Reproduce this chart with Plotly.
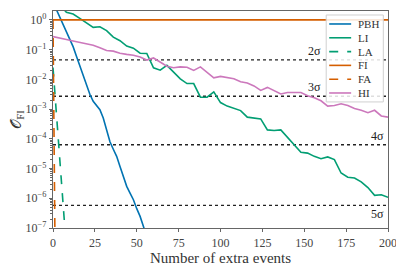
import numpy as np
import plotly.graph_objects as go

# ---- data (log10 values) ----
pbh_x = [0, 2, 4, 6, 8, 10, 12, 14, 16, 18, 20, 22, 24, 26, 28, 30, 32, 34, 36, 38, 40, 42, 44, 46, 48, 50, 52, 54, 56]
pbh_log = [0.6, 0.35, 0.1, -0.2, -0.44, -0.66, -0.9, -1.22, -1.55, -1.9, -2.22, -2.5, -2.74, -2.9, -3.02, -3.3, -3.7,
           -4.1, -4.35, -4.59, -4.93, -5.3, -5.6, -5.83, -6.05, -6.35, -6.61, -6.95, -7.3]

li_x = list(range(0, 201, 4))
li_log = [0.9, 0.5, 0.26, 0.2, 0.05, -0.1, -0.25, -0.23, -0.36, -0.58, -0.7, -0.88, -0.95, -1.12, -1.13, -1.61, -1.69,
          -1.53, -1.76, -1.98, -2.14, -2.14, -2.6, -2.6, -2.42, -2.78, -2.9, -2.97, -3.05, -3.27, -3.30, -3.33, -3.70,
          -3.72, -3.70, -3.95, -4.2, -4.45, -4.48, -4.59, -4.67, -4.61, -4.70, -5.15, -5.29, -5.32, -5.45, -5.64,
          -5.90, -5.88, -5.97]

la_x = [0, 1, 2, 3, 4, 5, 6, 7, 8]
la_log = [-1.6, -2.35, -3.2, -4.03, -4.75, -5.45, -6.15, -6.95, -7.7]

fi_x = [0, 200]
fi_log = [0.0, 0.0]

fa_x = [0, 1, 2]
fa_log = [0.0, -6.3, -12.6]

hi_x = list(range(0, 201, 4))
hi_log = [-0.56, -0.60, -0.66, -0.71, -0.76, -0.80, -0.85, -0.94, -1.03, -1.05, -1.12, -1.16, -1.19, -1.25, -1.35,
          -1.28, -1.41, -1.56, -1.61, -1.58, -1.59, -1.70, -1.58, -1.76, -1.95, -1.90, -1.94, -1.98, -2.08, -2.12,
          -2.22, -2.37, -2.27, -2.38, -2.49, -2.44, -2.43, -2.44, -2.55, -2.62, -2.72, -2.90, -2.88, -2.82, -2.88,
          -2.98, -3.04, -3.12, -3.04, -3.23, -3.27]

sigma_names = ["2σ", "3σ", "4σ", "5σ"]
sigma_vals = [0.0455, 0.0027, 6.33e-5, 5.73e-7]
sigma_label_x = [156, 156, 194, 194]
sigma_label_pos = ["above", "above", "above", "below"]

x_ticks = [0, 25, 50, 75, 100, 125, 150, 175, 200]
y_exps = [0, -1, -2, -3, -4, -5, -6, -7]

colors = {"blue": "#0173B2", "green": "#029E73", "orange": "#D55E00", "pink": "#CC78BC"}

FONT = "Liberation Serif"

fig = go.Figure()

for v in sigma_vals:
    fig.add_trace(go.Scatter(x=[0, 200], y=[v, v], mode="lines", showlegend=False, hoverinfo="skip",
                             line=dict(color="#222222", width=1.3, dash="dot")))

series = []

def tr(x, lg, name, color, dash="solid"):
    fig.add_trace(go.Scatter(x=x, y=[10 ** v for v in lg], mode="lines", name=name, showlegend=False,
                             line=dict(color=color, width=1.6, dash=dash)))
    series.append((name, color, dash))

tr(pbh_x, pbh_log, "PBH", colors["blue"])
tr(li_x, li_log, "LI", colors["green"])
tr(la_x, la_log, "LA", colors["green"], "dash")
tr(fi_x, fi_log, "FI", colors["orange"])
tr(fa_x, fa_log, "FA", colors["orange"], "dash")
tr(hi_x, hi_log, "HI", colors["pink"])

for name, v, lx, pos in zip(sigma_names, sigma_vals, sigma_label_x, sigma_label_pos):
    fig.add_annotation(x=lx, y=np.log10(v), text=name, showarrow=False, xanchor="center",
                       yanchor="bottom" if pos == "above" else "top",
                       font=dict(family=FONT, size=12, color="#222222"))

# compact legend drawn inside the axes (matplotlib-style)
fig.add_shape(type="rect", xref="paper", yref="paper", x0=0.8155, x1=0.986, y0=0.581, y1=0.9816,
              line=dict(color="#d0d0d0", width=1), fillcolor="rgba(255,255,255,0.85)", layer="above")
leg_top, leg_step = 0.9402, 0.0636
for i, (name, color, dash) in enumerate(series):
    yy = leg_top - i * leg_step
    fig.add_shape(type="line", xref="paper", yref="paper", x0=0.8245, x1=0.890, y0=yy, y1=yy,
                  line=dict(color=color, width=1.6, dash="dash" if dash == "dash" else "solid"), layer="above")
    fig.add_annotation(xref="paper", yref="paper", x=0.905, y=yy, text=name, showarrow=False,
                       xanchor="left", yanchor="middle", font=dict(family=FONT, size=11, color="#333333"))

fig.update_layout(
    width=396, height=262,
    margin=dict(l=45, r=16, t=3, b=42, autoexpand=False),
    plot_bgcolor="white", paper_bgcolor="white",
    font=dict(family=FONT, size=11, color="#333333"),
    showlegend=False,
)

fig.update_xaxes(range=[0, 200], tickvals=x_ticks, ticktext=[str(t) for t in x_ticks], automargin=False,
                 showgrid=False, zeroline=False, showline=True, linecolor="#666666", linewidth=1.2,
                 mirror=True, ticks="outside", ticklen=3, tickcolor="#666666",
                 title=dict(text="Number of extra events", font=dict(family=FONT, size=15, color="#333333"),
                            standoff=2),
                 tickfont=dict(family=FONT, size=12, color="#444444"))

fig.update_yaxes(type="log", range=[-7, 0.30], automargin=False,
                 tickvals=[10 ** e for e in y_exps],
                 ticktext=["10<sup>%s</sup>" % (str(e).replace("-", "−")) for e in y_exps],
                 showgrid=False, zeroline=False, showline=True, linecolor="#666666", linewidth=1.2,
                 mirror=True, ticks="outside", ticklen=3, tickcolor="#666666",
                 minor=dict(ticks="outside", ticklen=2, tickcolor="#666666", dtick="D1"),
                 title=dict(text="𝒪<sub>FI</sub>", font=dict(family=FONT, size=15, color="#333333"), standoff=6),
                 tickfont=dict(family=FONT, size=12, color="#444444"))

fig.write_html("out.html")
